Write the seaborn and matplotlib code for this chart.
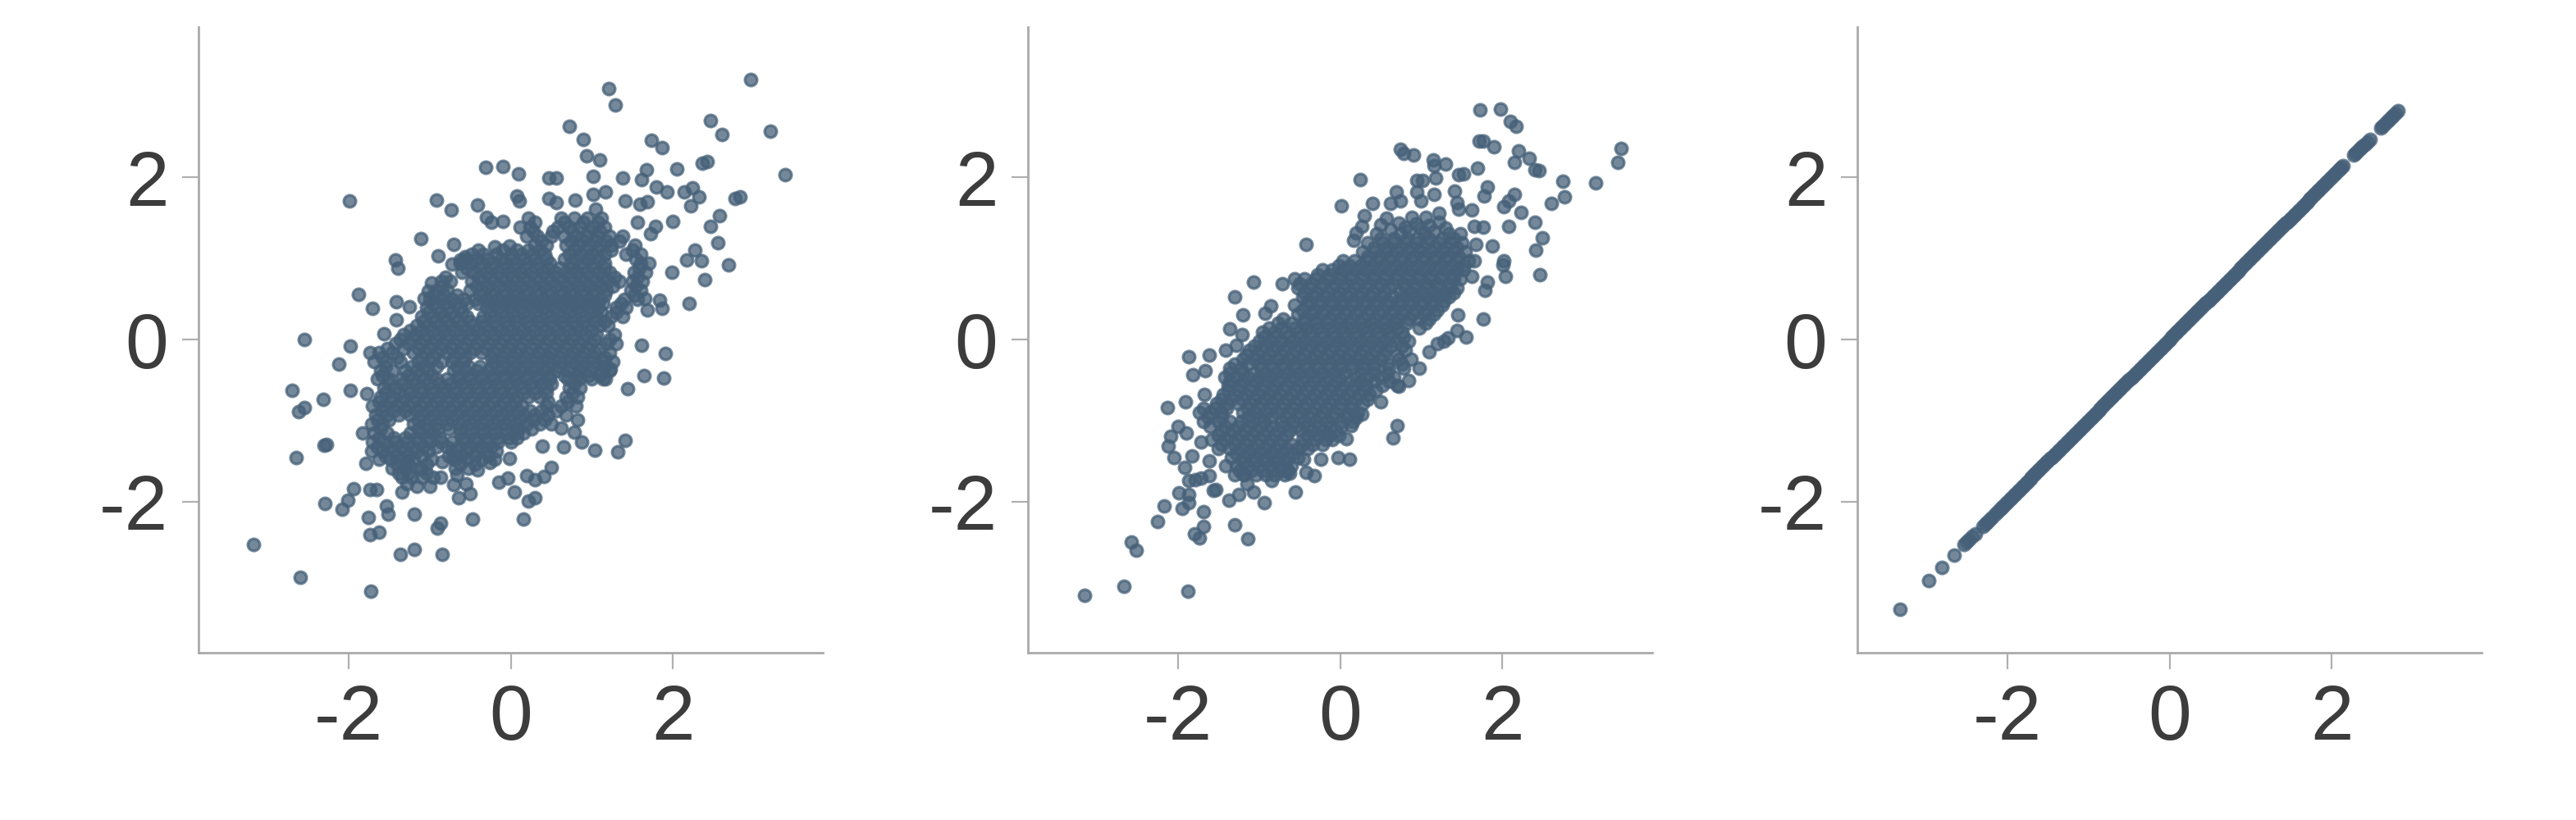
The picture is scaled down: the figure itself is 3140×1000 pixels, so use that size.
"""Three scatter panels with growing correlation, same axes and ticks."""

import matplotlib
matplotlib.use("Agg")
import matplotlib.pyplot as plt
import pandas as pd
import seaborn as sns


COLOR = "#456078"
TICKS = [-2, 0, 2]
TICK_LABELS = ["-2", "0", "2"]

# ---------------------------------------------------------------------------
# Panel 1: points (sparse rim, then rows of the dense core)
# ---------------------------------------------------------------------------
rim_a_x = [2.96, 1.21, 1.29, .72, .90, 1.74, 1.87, 2.46, 2.61, 3.20, 3.38, .94, 1.10, -.31, -.10, .10, .47, .56,
           1.02, 1.38, 1.67, 1.61, 2.05, 2.36, 2.42, 1.80, 1.93, 2.14, 2.24, 2.32, 2.22, 2.77, 2.83, 2.58, 2.46,
           2.55, 2.27, 2.17, 2.35, 2.69, 1.99, 2.39, 2.20, 1.87, 1.68, 1.65, 1.84, -1.99, -.92, -.73, -.41, .08,
           .11, .47, .56, .79, 1.02, 1.17, 1.41, 1.68, 1.59, 1.05, -.30, -.10, -.24, 2.0, 1.56, 1.79, 1.73, -1.11,
           -.70, -.90, -1.42, -1.39, -.02, -.56, -1.88, -1.70, -1.41, -1.07, -1.41, -1.25,
           -2.54, -1.56, -1.98, -2.12, -1.74, -2.70, -2.31, -1.98, -1.78, -2.54, -2.62, -1.83, -2.30, -2.27, -2.65,
           -1.79, -1.94, -1.74, -1.65, -2.29, -2.01, -2.08, -1.76, -1.53, -1.51, -1.19, -.87, -.91, -.47, .16,
           -1.62, -1.74, -1.19, -1.36, -.84, -3.17, -2.60, -1.73, 1.91, 1.61, 1.64, 1.89, 1.44, 1.17, 1.23, 1.41,
           1.32, 1.04, .88, .65, .39, .78, .62, .82, .50, .41, .30, .20, .30, .22, .05, -.04, -.15, -.50, -.64,
           -.70, -.55, -1.0, -1.16, -1.34, -1.28, -.87, -.66, -.02, -.26, -.41, -.68, -.84, -1.10, -1.28,
           # small holes in the core that were too wide, and the upper left lobe
           .48, .66, .5, -.92, -.98, -.9, -.76, -.88, -.54, -.4, -.98, -1.02, -.72, -.62, -.2]
rim_a_y = [3.20, 3.09, 2.89, 2.63, 2.47, 2.46, 2.36, 2.70, 2.53, 2.57, 2.03, 2.26, 2.21, 2.12, 2.13, 2.04, 1.99, 1.99,
           2.01, 1.99, 2.09, 1.97, 2.10, 2.17, 2.19, 1.88, 1.82, 1.82, 1.87, 1.76, 1.65, 1.74, 1.76, 1.53, 1.39,
           1.19, 1.10, .98, .97, .92, .83, .74, .44, .38, .36, .51, .49, 1.71, 1.72, 1.60, 1.66, 1.77,
           1.71, 1.74, 1.69, 1.72, 1.79, 1.82, 1.71, 1.70, 1.67, 1.61, 1.51, 1.46, 1.44, 1.46, 1.44, 1.39, 1.30, 1.24,
           1.17, 1.03, .98, .88, 1.15, 1.02, .56, .38, .46, .51, .24, .40,
           0.0, .07, -.08, -.30, -.16, -.63, -.74, -.63, -.67, -.84, -.89, -1.15, -1.30, -1.29, -1.45,
           -1.53, -1.84, -1.85, -1.85, -2.02, -1.98, -2.09, -2.19, -2.05, -2.15, -2.15, -2.26, -2.32, -2.21, -2.21,
           -2.37, -2.40, -2.59, -2.65, -2.65, -2.53, -2.93, -3.10, -.17, -.07, -.44, -.47, -.61, -.48, -.36, -1.24,
           -1.38, -1.36, -1.26, -1.32, -1.31, -1.14, -1.09, -.99, -1.58, -1.69, -1.73, -1.68, -1.95, -1.99, -1.88, -1.71, -1.76, -1.90, -1.95,
           -1.79, -1.78, -1.81, -1.81, -1.88, -1.78, -1.70, -1.67, -1.47, -1.52, -1.61, -1.44, -1.51, -1.60, -1.50,
           -.44, -.44, -.55, -.33, -.44, -1.10, -1.10, -1.21, .44, .44, .70, .60, .93, .98, 1.14]

core_a_y = [1.50, 1.38, 1.27, 1.16, 1.05, .94, .83, .72, .61, .50, .39, .28, .17, .06, -.05, -.16, -.27, -.38, -.49,
            -.60, -.71, -.82, -.93, -1.04, -1.15, -1.26, -1.37, -1.48, -1.59, -1.70]
core_a_x = [
    [.22, .62, .78, .95, 1.12],
    [.12, .24, .58, .72, .86, 1.02, 1.16],
    [.2, .33, .5, .66, .8, .94, 1.07, 1.22, 1.38],
    [.3, .44, .68, .82, .96, 1.1, 1.24, 1.53],
    [-.48, -.34, -.18, .0, .14, .28, .42, .72, .86, 1.0, 1.16, 1.42, 1.6],
    [-.62, -.5, -.36, -.22, -.08, .06, .2, .34, .48, .74, .88, 1.02, 1.16, 1.6, 1.7],
    [-.6, -.46, -.3, -.16, -.02, .12, .26, .4, .54, .68, .8, .94, 1.08, 1.22, 1.52, 1.66],
    [-.85, -.74, -.48, -.34, -.2, -.06, .08, .22, .36, .5, .64, .78, .92, 1.06, 1.2, 1.34, 1.5, 1.62],
    [-.92, -.78, -.5, -.36, -.22, -.08, .06, .2, .34, .48, .62, .76, .9, 1.04, 1.18, 1.48, 1.6],
    [-1.0, -.86, -.72, -.58, -.44, -.3, -.16, -.02, .12, .26, .4, .54, .68, .82, .96, 1.1, 1.4, 1.56],
    [-1.04, -.9, -.76, -.62, -.3, -.16, -.02, .12, .26, .4, .54, .68, .82, .96, 1.08, 1.3, 1.42],
    [-1.1, -.96, -.82, -.68, -.54, -.34, -.2, -.06, .08, .22, .36, .5, .64, .78, .92, 1.06, 1.24, 1.38],
    [-1.16, -1.02, -.88, -.74, -.6, -.46, -.32, -.18, -.04, .1, .24, .38, .52, .66, .8, .94, 1.1, 1.2],
    [-1.32, -1.18, -1.04, -.9, -.76, -.62, -.48, -.34, -.2, -.06, .08, .22, .36, .5, .64, .78, .92, 1.06, 1.28],
    [-1.42, -1.26, -1.12, -.98, -.84, -.7, -.56, -.42, -.28, -.14, .0, .14, .28, .42, .56, .7, .84, .98, 1.18, 1.3],
    [-1.62, -1.46, -1.2, -1.06, -.92, -.78, -.64, -.5, -.36, -.22, -.08, .06, .2, .34, .48, .62, .76, .9, 1.04, 1.22],
    [-1.68, -1.54, -1.36, -1.14, -1.0, -.86, -.72, -.58, -.22, -.1, .04, .18, .32, .46, .6, .74, .88, 1.02, 1.16, 1.26],
    [-1.6, -1.46, -1.3, -1.16, -1.02, -.7, -.56, -.42, -.28, -.14, .0, .14, .28, .42, .56, .7, .84, .98, 1.12, 1.22],
    [-1.64, -1.5, -1.34, -1.2, -1.06, -.92, -.78, -.64, -.5, -.36, -.22, -.08, .06, .2, .34, .48, .7, .84, 1.0, 1.14],
    [-1.56, -1.42, -1.26, -1.1, -.96, -.82, -.68, -.54, -.4, -.26, -.12, .02, .16, .3, .44, .72, .86],
    [-1.6, -1.46, -1.32, -1.18, -1.04, -.9, -.76, -.62, -.48, -.34, -.2, -.06, .08, .22, .36, .68, .82],
    [-1.7, -1.56, -1.4, -1.26, -1.12, -.98, -.84, -.7, -.56, -.42, -.28, -.14, .0, .14, .44, .62, .8],
    [-1.66, -1.52, -1.38, -1.24, -1.1, -.96, -.82, -.68, -.54, -.4, -.26, -.12, .02, .16, .3, .46, .68],
    [-1.72, -1.58, -1.2, -1.06, -.92, -.78, -.64, -.5, -.36, -.22, -.08, .06, .2, .36, .5],
    [-1.68, -1.52, -1.24, -1.1, -.96, -.62, -.48, -.34, -.2, -.06, .08, .16],
    [-1.7, -1.56, -1.42, -1.28, -1.14, -1.0, -.86, -.72, -.58, -.44, -.3, -.16, .0],
    [-1.72, -1.58, -1.44, -1.3, -1.16, -1.02, -.72, -.56, -.42, -.3, -.18],
    [-1.62, -1.48, -1.34, -1.2, -.98, -.7, -.54, -.36, -.2],
    [-1.46, -1.3, -1.12, -.68, -.52],
    [-1.34, -1.22, -1.1, -.96],
]

# second set of rows, sitting between the first ones where the cloud is solid
fill_a_y = [1.44, 1.33, 1.21, 1.10, .99, .88, .77, .66, .55, .44, .33, .22, .11, 0.0, -.11, -.22, -.33, -.44, -.55,
            -.66, -.77, -.88, -.99, -1.10, -1.21, -1.32, -1.43, -1.54, -1.65]
fill_a_x = [
    [.3, .66, .9, 1.08],
    [.28, .52, .76, .96, 1.1],
    [.38, .74, .88, 1.04, 1.18, 1.34],
    [-.4, -.1, .08, .22, .36, .78, .94, 1.08, 1.24, 1.5],
    [-.56, -.42, -.28, -.12, .02, .16, .3, .44, .66, .8, .96, 1.1, 1.54],
    [-.54, -.38, -.24, -.1, .04, .18, .32, .46, .6, .74, .88, 1.02, 1.16, 1.58],
    [-.8, -.4, -.26, -.12, .02, .16, .3, .44, .58, .72, .86, 1.0, 1.14, 1.28, 1.56],
    [-.84, -.42, -.28, -.14, .0, .14, .28, .42, .56, .7, .84, .98, 1.12, 1.26, 1.54],
    [-.96, -.82, -.66, -.38, -.24, -.1, .04, .18, .32, .46, .6, .74, .88, 1.02, 1.16, 1.52],
    [-.96, -.82, -.68, -.26, -.12, .02, .16, .3, .44, .58, .72, .86, 1.0, 1.14, 1.36],
    [-1.02, -.88, -.74, -.6, -.26, -.12, .02, .16, .3, .44, .58, .72, .86, 1.0, 1.12, 1.3],
    [-1.08, -.94, -.8, -.66, -.5, -.36, -.22, -.08, .06, .2, .34, .48, .62, .76, .9, 1.04, 1.16],
    [-1.24, -1.1, -.96, -.82, -.68, -.54, -.4, -.26, -.12, .02, .16, .3, .44, .58, .72, .86, 1.0],
    [-1.36, -1.2, -1.06, -.92, -.78, -.64, -.5, -.36, -.22, -.08, .06, .2, .34, .48, .62, .76, .9, 1.04, 1.22],
    [-1.52, -1.32, -1.14, -1.0, -.86, -.72, -.58, -.44, -.3, -.16, -.02, .12, .26, .4, .54, .68, .82, .96, 1.1],
    [-1.58, -1.4, -1.1, -.96, -.7, -.56, -.24, -.1, .04, .18, .32, .46, .6, .74, .88, 1.02, 1.16],
    [-1.54, -1.22, -1.08, -.66, -.52, -.38, -.24, -.1, .04, .18, .32, .46, .6, .74, .88, 1.02, 1.16],
    [-1.58, -1.26, -1.12, -.64, -.5, -.36, -.22, -.08, .06, .2, .34, .82, .96, 1.1],
    [-1.5, -1.34, -1.18, -1.02, -.88, -.74, -.6, -.46, -.32, -.18, -.04, .1, .24, .38, .78],
    [-1.54, -1.38, -1.24, -1.1, -.96, -.82, -.68, -.54, -.4, -.26, -.12, .02, .16, .3, .44, .76],
    [-1.62, -1.48, -1.34, -1.2, -1.06, -.92, -.78, -.64, -.5, -.36, -.22, -.08, .06, .46, .7],
    [-1.58, -1.44, -1.3, -1.16, -1.02, -.88, -.74, -.6, -.46, -.32, -.18, -.04, .1, .24, .38, .56],
    [-1.64, -1.5, -1.14, -1.0, -.86, -.72, -.58, -.44, -.3, -.16, -.02, .12, .28, .42],
    [-1.6, -1.14, -1.02, -.62, -.48, -.34, -.2, -.06, .1, .26],
    [-1.62, -1.44, -1.3, -1.16, -1.02, -.6, -.44, -.3, -.16, -.02, .08],
    [-1.64, -1.5, -1.36, -1.22, -1.08, -.92, -.78, -.64, -.5, -.36, -.24],
    [-1.54, -1.4, -1.26, -1.1, -.76, -.6, -.44, -.28],
    [-1.4, -1.26, -1.04, -.62, -.44],
    [-1.38, -1.26, -1.04],
]

# ---------------------------------------------------------------------------
# Panel 2: tighter cloud
# ---------------------------------------------------------------------------
rim_b_x = [1.73, 1.98, 2.10, 2.17, 1.72, 1.77, 1.90, 3.47, 3.42, 2.20, 2.33, 2.15, 2.40, 2.45, .74, .78, .91, 1.15,
           1.16, 1.30, 1.69, 1.46, 1.52, .25, 1.18, .95, 1.02, 2.75, 3.15, 1.82, 1.78, .69, .95, 1.16, 2.15, 2.08,
           2.02, 2.77, 2.61, .40, .02, .74, .62, 1.0, 1.41, 1.44, 1.46, 1.62, 2.23, 2.40, 2.08, 1.77, 1.65, .30,
           .57, .89, 1.06, 1.22, .27, 2.49, 2.41, 1.88, 1.67, -.42, 2.02, 2.01, 2.04, 2.46, 1.65, 1.62, 1.82, 1.79,
           -1.07, -.71, -1.30, -1.20, -.93, -.85, 1.45, 1.77, 1.55, 1.44, 1.33, 1.20, -1.36, -1.21, -1.28, -1.41,
           -1.61, -1.87, -1.66, -1.82, -1.67, -1.91, -2.13, -2.0, -2.09, -2.12, -1.90, -2.05, -1.83, -1.92, -1.61,
           -1.72, -1.87, -1.79, -1.71, -1.61, -1.99, -1.87, -1.87, -2.17, -1.95, -2.25, -1.68, -1.68, -1.80, -1.74,
           -1.30, -1.14, -2.58, -2.51, -2.67, -3.15, -1.88, -1.56, -1.53, -1.37, -.94, -1.25, -1.07, -.55, -.84,
           -.32, -.42, -.62, -.24, -.03, .12, -.45, .08, .14, .70, .65, .50, .27, .09, .72, .84, .98, 1.10, 1.28,
           -1.41, -1.20, -1.15,
           # broken top edge of the core
           .5, .72, .8, .94, 1.1, 1.22, 1.3, .17, .2, .62, .86, 1.0, 1.16, 1.34]
rim_b_y = [2.83, 2.84, 2.69, 2.63, 2.45, 2.45, 2.37, 2.35, 2.18, 2.32, 2.23, 2.18, 2.09, 2.08, 2.34, 2.29, 2.27, 2.21,
           2.14, 2.16, 2.11, 2.03, 2.04, 1.97, 1.99, 1.96, 1.96, 1.95, 1.93, 1.88, 1.77, 1.82, 1.82, 1.79, 1.79, 1.71,
           1.64, 1.76, 1.68, 1.68, 1.65, 1.71, 1.68, 1.71, 1.83, 1.69, 1.61, 1.60, 1.57, 1.45, 1.39, 1.38, 1.39, 1.53,
           1.50, 1.51, 1.51, 1.56, 1.39, 1.25, 1.10, 1.15, 1.17, 1.17, .97, .92, .78, .80, .97, .78, .71, .61,
           .71, .69, .53, .30, .32, .41, .30, .25, .03, .11, .02, -.05, .13, .06, -.07, -.13,
           -.19, -.21, -.38, -.43, -.68, -.77, -.84, -1.07, -1.19, -1.31, -1.15, -1.45, -1.43, -1.58, -1.50,
           -1.26, -1.74, -1.73, -1.71, -1.68, -1.89, -1.91, -2.01, -2.05, -2.08, -2.24, -2.12, -2.30, -2.39, -2.45,
           -2.28, -2.46, -2.50, -2.60, -3.04, -3.15, -3.10, -1.86, -1.85, -1.98, -2.01, -1.91, -1.88, -1.88, -1.74,
           -1.68, -1.64, -1.65, -1.48, -1.45, -1.48, -1.48, -1.22, -1.06, -1.06, -1.21, -.77, -.92, -.92, -.58, -.51, -.35, -.15, -.02,
           -1.56, -1.66, -1.78,
           1.41, 1.43, 1.38, 1.42, 1.40, 1.44, 1.37, 1.22, 1.31, 1.35, 1.34, 1.37, 1.33, 1.30]

core_b_y = [1.30, 1.19, 1.08, .97, .86, .75, .64, .53, .42, .31, .20, .09, -.02, -.13, -.24, -.35, -.46, -.57, -.68,
            -.79, -.90, -1.01, -1.12, -1.23, -1.34, -1.45, -1.56, -1.67]
core_b_x = [
    [.45, .74, 1.04, 1.48],
    [.34, .52, .66, .8, .94, 1.08, 1.22, 1.36, 1.5],
    [.28, .42, .56, .7, .84, .98, 1.12, 1.26, 1.4, 1.54],
    [.04, .18, .32, .46, .6, .74, .88, 1.02, 1.16, 1.3, 1.44, 1.58],
    [-.22, -.1, .04, .18, .32, .46, .6, .74, .88, 1.02, 1.16, 1.3, 1.44, 1.52],
    [-.56, -.44, -.3, -.14, .0, .14, .28, .42, .56, .7, .84, .98, 1.12, 1.26, 1.4, 1.48],
    [-.52, -.38, -.24, -.1, .04, .18, .32, .46, .6, .8, .94, 1.08, 1.22, 1.36, 1.44],
    [-.46, -.32, -.18, -.04, .1, .24, .38, .52, .66, .8, .94, 1.08, 1.22, 1.34],
    [-.56, -.4, -.26, -.12, .02, .16, .3, .44, .58, .72, .86, 1.0, 1.14, 1.26],
    [-.52, -.36, -.22, -.08, .06, .2, .34, .48, .62, .76, .9, 1.04, 1.16],
    [-.76, -.6, -.44, -.3, -.16, -.02, .12, .26, .4, .54, .68, .82, 1.06],
    [-.96, -.8, -.66, -.5, -.36, -.22, -.08, .06, .2, .34, .48, .62, .76],
    [-1.0, -.86, -.72, -.58, -.44, -.3, -.16, -.02, .12, .26, .4, .54, .68, .84],
    [-1.12, -.98, -.84, -.7, -.56, -.42, -.28, -.14, .0, .14, .28, .42, .56, .8],
    [-1.2, -1.06, -.92, -.76, -.62, -.48, -.34, -.2, -.06, .08, .22, .36, .5, .72, .88],
    [-1.36, -1.22, -.98, -.84, -.7, -.56, -.42, -.28, -.14, .0, .14, .28, .42, .6, .78],
    [-1.42, -1.28, -1.14, -1.0, -.86, -.72, -.58, -.44, -.3, -.16, -.02, .2, .34, .5, .66],
    [-1.38, -1.24, -1.1, -.96, -.82, -.66, -.52, -.38, -.24, -.1, .04, .18, .32, .52, .7],
    [-1.44, -1.3, -1.16, -1.02, -.88, -.74, -.6, -.46, -.32, -.18, -.04, .1, .24, .36],
    [-1.52, -1.4, -1.26, -1.12, -.98, -.84, -.7, -.56, -.42, -.28, -.14, .0, .14, .28],
    [-1.74, -1.6, -1.46, -1.2, -1.06, -.92, -.78, -.64, -.5, -.36, -.22, -.08, .22],
    [-1.68, -1.5, -1.36, -1.22, -1.08, -.94, -.72, -.58, -.44, -.3, -.16, .02, .16],
    [-1.46, -1.32, -1.18, -1.04, -.9, -.76, -.62, -.48, -.34, -.2, -.06],
    [-1.58, -1.42, -1.28, -1.14, -1.0, -.86, -.72, -.46, -.32, -.18, -.1],
    [-1.5, -1.36, -1.22, -1.08, -.94, -.8, -.66, -.52, -.4],
    [-1.34, -1.2, -1.06, -.92, -.78, -.64, -.52],
    [-1.28, -1.14, -1.0, -.86, -.72, -.6],
    [-1.3, -1.18, -1.04, -.92, -.8, -.68],
]

fill_b_y = [1.24, 1.13, 1.02, .91, .80, .69, .58, .47, .36, .25, .14, .03, -.08, -.19, -.30, -.41, -.52, -.63, -.74,
            -.85, -.96, -1.07, -1.18, -1.29, -1.40, -1.51, -1.62]
fill_b_x = [
    [.5, .66, .82, .96, 1.1, 1.26, 1.4],
    [.42, .58, .74, .88, 1.02, 1.16, 1.3, 1.44],
    [.34, .48, .62, .76, .9, 1.04, 1.18, 1.32, 1.46],
    [-.02, .12, .26, .4, .54, .68, .82, .96, 1.1, 1.24, 1.38, 1.52],
    [-.28, -.14, .0, .14, .28, .42, .56, .7, .84, .98, 1.12, 1.26, 1.4],
    [-.5, -.36, -.22, -.06, .08, .22, .36, .5, .64, .78, .92, 1.06, 1.2, 1.34],
    [-.44, -.3, -.16, -.02, .12, .26, .4, .54, .74, .88, 1.02, 1.16, 1.3, 1.4],
    [-.4, -.26, -.12, .02, .16, .3, .44, .58, .72, .86, 1.0, 1.14, 1.28],
    [-.46, -.32, -.18, -.04, .1, .24, .38, .52, .66, .8, .94, 1.08, 1.2],
    [-.7, -.44, -.3, -.14, .0, .14, .28, .42, .56, .7, .84, .98, 1.1],
    [-.88, -.72, -.56, -.42, -.28, -.14, .0, .14, .28, .42, .56, .7, .98],
    [-.94, -.8, -.64, -.5, -.36, -.22, -.08, .06, .2, .34, .48, .62, .78],
    [-1.06, -.92, -.78, -.64, -.5, -.36, -.22, -.08, .06, .2, .34, .48, .62, .76],
    [-1.16, -1.02, -.88, -.72, -.58, -.44, -.3, -.16, -.02, .12, .26, .4, .54, .7],
    [-1.3, -1.14, -1.0, -.86, -.7, -.56, -.42, -.28, -.14, .0, .14, .28, .42, .58, .76],
    [-1.36, -1.2, -1.06, -.92, -.78, -.64, -.5, -.36, -.22, -.08, .06, .26, .42, .58],
    [-1.36, -1.2, -1.04, -.9, -.76, -.6, -.46, -.32, -.18, -.04, .12, .26, .42, .6],
    [-1.38, -1.24, -1.1, -.96, -.82, -.68, -.54, -.4, -.26, -.12, .02, .16, .3, .44],
    [-1.46, -1.34, -1.2, -1.06, -.92, -.78, -.64, -.5, -.36, -.22, -.08, .06, .2, .34],
    [-1.68, -1.54, -1.4, -1.14, -1.0, -.86, -.72, -.58, -.44, -.3, -.16, .0, .14],
    [-1.62, -1.46, -1.14, -1.0, -.84, -.66, -.5, -.38, -.24, -.1, .08, .2],
    [-1.6, -1.42, -1.26, -1.12, -.98, -.84, -.7, -.54, -.4, -.26, -.12, .02],
    [-1.5, -1.36, -1.22, -1.08, -.94, -.8, -.66, -.4, -.26, -.14, -.02],
    [-1.46, -1.3, -1.16, -1.02, -.88, -.74, -.6, -.46, -.34, -.22],
    [-1.28, -1.14, -1.0, -.86, -.72, -.58],
    [-1.2, -1.06, -.92, -.78, -.66],
    [-1.24, -1.1, -.96, -.84, -.72, -.64],
]

# ---------------------------------------------------------------------------
# Panel 3: x equals y, gaps at both ends
# ---------------------------------------------------------------------------
line_c = [-3.32, -2.97, -2.81, -2.66, -2.53, -2.50, -2.47, -2.43, -2.39, -2.30, -2.27, -2.25, -2.22, -2.19, -2.15, -2.12,
          -2.09, -2.07, -2.05, -2.02, -2.0, -1.97, -1.95, -1.92, -1.9, -1.87, -1.85, -1.82, -1.8, -1.77, -1.75, -1.72,
          -1.7, -1.67, -1.65, -1.62, -1.6, -1.57, -1.55, -1.52, -1.5, -1.47, -1.45, -1.42, -1.4, -1.37, -1.35,
          -1.32, -1.3, -1.27, -1.25, -1.22, -1.2, -1.17, -1.15, -1.12, -1.1, -1.07, -1.05, -1.02, -1.0, -.97, -.95,
          -.92, -.9, -.87, -.85, -.82, -.8, -.77, -.75, -.72, -.7, -.67, -.65, -.62, -.6, -.57, -.55, -.52, -.5,
          -.47, -.45, -.42, -.4, -.37, -.35, -.32, -.3, -.27, -.25, -.22, -.2, -.17, -.15, -.12, -.1, -.07, -.05,
          -.02, 0.0, .03, .05, .08, .1, .13, .15, .18, .2, .23, .25, .28, .3, .33, .35, .38, .4, .43, .45, .48, .5,
          .53, .55, .58, .6, .63, .65, .68, .7, .73, .75, .78, .8, .83, .85, .88, .9, .93, .95, .98, 1.0, 1.03,
          1.05, 1.08, 1.1, 1.13, 1.15, 1.18, 1.2, 1.23, 1.25, 1.28, 1.3, 1.33, 1.35, 1.38, 1.4, 1.43, 1.45, 1.48,
          1.5, 1.53, 1.55, 1.58, 1.6, 1.63, 1.65, 1.68, 1.7, 1.73, 1.75, 1.78, 1.8, 1.83, 1.85, 1.88, 1.9, 1.93,
          1.95, 1.98, 2.0, 2.03, 2.05, 2.08, 2.1, 2.12, 2.14, 2.27, 2.29, 2.31, 2.34, 2.36, 2.38, 2.41, 2.44, 2.47,
          2.61, 2.63, 2.66, 2.69, 2.71, 2.74, 2.76, 2.79, 2.82]


def expand_rows(rim_x, rim_y, rows):
    """Join the rim points and the rows of the dense core into one table."""
    xs = list(rim_x)
    ys = list(rim_y)
    for rows_y, rows_x in rows:
        for row_y, row_x in zip(rows_y, rows_x):
            xs += row_x
            ys += [row_y] * len(row_x)
    return pd.DataFrame({"x": xs, "y": ys})


panels = [
    expand_rows(rim_a_x, rim_a_y, [(core_a_y, core_a_x), (fill_a_y, fill_a_x)]),
    expand_rows(rim_b_x, rim_b_y, [(core_b_y, core_b_x), (fill_b_y, fill_b_x)]),
    pd.DataFrame({"x": line_c, "y": line_c}),
]

sns.set_style("ticks")
plt.rcParams["font.family"] = ["Liberation Sans", "DejaVu Sans"]
plt.rcParams["axes.unicode_minus"] = False

fig, axes = plt.subplots(1, 3, figsize=(15.7, 5), dpi=200)
fig.subplots_adjust(left=242 / 3140, right=3025 / 3140, bottom=0.204, top=0.967, wspace=250 / 761)

for ax, df in zip(axes, panels):
    sns.scatterplot(data=df, x="x", y="y", ax=ax, color=COLOR, s=28, alpha=0.75,
                    edgecolor=COLOR, linewidth=1.2, legend=False)
    ax.set_xlim(-3.85, 3.85)
    ax.set_ylim(-3.86, 3.85)
    ax.set_xticks(TICKS, TICK_LABELS)
    ax.set_yticks(TICKS, TICK_LABELS)
    ax.set_xlabel("")
    ax.set_ylabel("")
    ax.tick_params(axis="both", length=7.2, width=0.8, color="#b0b0b0", labelsize=34, labelcolor="#3c3c3c", pad=6)
    sns.despine(ax=ax)
    for side in ["left", "bottom"]:
        ax.spines[side].set_color("#aaaaaa")
        ax.spines[side].set_linewidth(1.0)

fig.savefig("out.png", dpi=200)
plt.close(fig)
